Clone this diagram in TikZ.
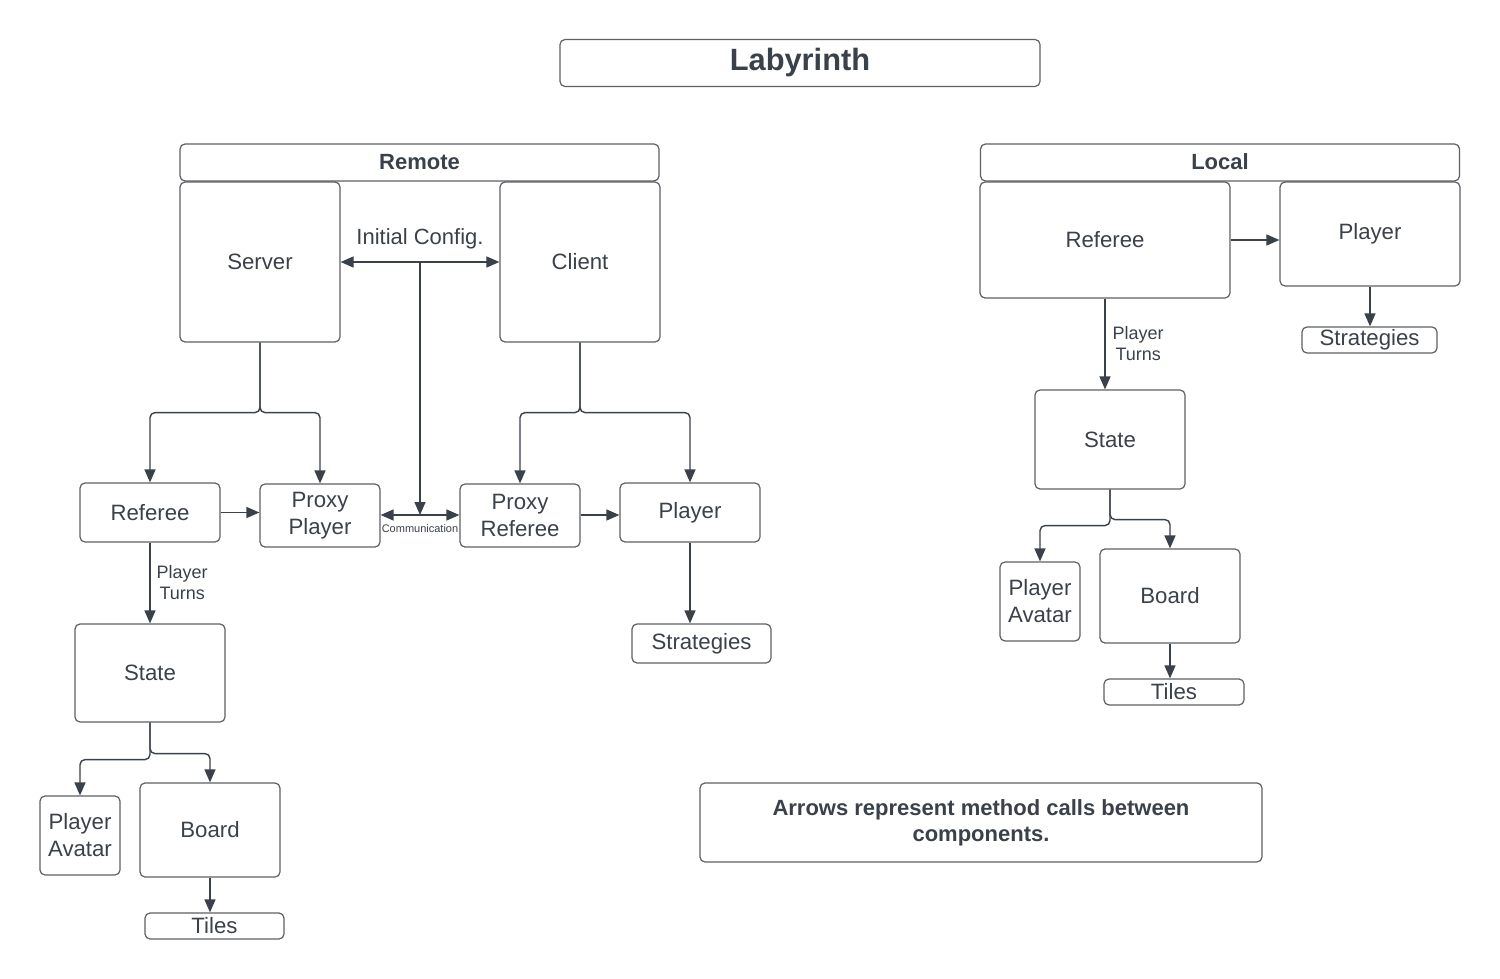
\documentclass[tikz,border=0pt]{standalone}
\usepackage{fontspec}
\setmainfont{Liberation Sans}
\usetikzlibrary{arrows.meta}
\definecolor{ink}{HTML}{3A414A}
\definecolor{edge}{HTML}{5C5F66}
\tikzset{
  box/.style={draw=edge, line width=0.6pt, rounded corners=2.5pt, text=ink, inner sep=0pt, align=center, font=\fontsize{11.1}{13.5}\selectfont},
  head/.style={box, font=\fontsize{11}{13}\selectfont\bfseries},
  lbl/.style={text=ink, align=center, inner sep=0pt},
  link/.style={draw=ink, line width=0.7pt, ->, rounded corners=2.5pt}
}
\begin{document}
\begin{tikzpicture}[x=0.5pt, y=-0.5pt, >={Triangle[length=6.5pt,width=5.5pt]}]
\useasboundingbox (0,0) rectangle (1500,979);

\node[head, minimum width=240pt, minimum height=23.5pt, font=\fontsize{15.4}{18}\selectfont\bfseries] (title) at (800,63) {Labyrinth};

% remote side
\node[head, minimum width=239.5pt, minimum height=18.5pt] (remote) at (419.5,162.5) {\raisebox{1pt}{Remote}};
\node[box, minimum width=80pt, minimum height=80pt] (server) at (260,262) {Server};
\node[box, minimum width=80pt, minimum height=80pt] (client) at (580,262) {Client};
\node[lbl, font=\fontsize{11}{13.5}\selectfont] (cfg) at (420,239) {Initial Config.};
\node[box, minimum width=70pt, minimum height=29.5pt] (ref) at (150,512.5) {Referee};
\node[box, minimum width=60pt, minimum height=31.5pt] (pp) at (320,515.5) {Proxy\\Player};
\node[box, minimum width=60pt, minimum height=31.5pt] (prf) at (520,515.5) {Proxy\\Referee};
\node[box, minimum width=70pt, minimum height=29.5pt] (rplayer) at (690,512.5) {Player};
\node[box, minimum width=69.5pt, minimum height=19.5pt] (rstrat) at (701.5,643.5) {Strategies};
\node[box, minimum width=75pt, minimum height=49pt] (rstate) at (150,673) {State};
\node[box, minimum width=40pt, minimum height=39.5pt] (ravatar) at (80,835.5) {Player\\Avatar};
\node[box, minimum width=70pt, minimum height=47pt] (rboard) at (210,830) {Board};
\node[box, minimum width=69.5pt, minimum height=13pt] (rtiles) at (214.5,926) {Tiles};
\coordinate (ic) at (420,262);
\coordinate (comm) at (420,515);

\draw[link, <->] (server.east |- ic) -- (client.west |- ic);
\draw[link] (ic) -- (comm);
\draw[link, <->] (pp.east |- comm) -- (prf.west |- comm) node[lbl, midway, below=4.5pt, font=\fontsize{5.5}{6}\selectfont] {Communication};
\draw[link] (server.south) -- ++(0,70) -| (ref.north);
\draw[link] (server.south) -- ++(0,70) -| (pp.north);
\draw[link] (client.south) -- ++(0,70) -| (prf.north);
\draw[link] (client.south) -- ++(0,70) -| (rplayer.north);
\draw[link] (ref.east) -- (pp.west |- ref.east);
\draw[link] (prf.east |- comm) -- (rplayer.west |- comm);
\draw[link] (rplayer.south) -- (rplayer.south |- rstrat.north);
\draw[link] (ref.south) -- (rstate.north) node[lbl, midway, right=3pt, font=\fontsize{9}{10.5}\selectfont] {Player\\Turns};
\draw[link] (rstate.south) -- ++(0,37) -| (ravatar.north);
\draw[link] (rstate.south) -- ++(0,31) -| (rboard.north);
\draw[link] (rboard.south) -- (rboard.south |- rtiles.north);

% local side
\node[head, minimum width=239.5pt, minimum height=18.5pt] (local) at (1220,162.5) {\raisebox{1pt}{Local}};
\node[box, minimum width=125pt, minimum height=58pt] (lref) at (1105,240) {\raisebox{1pt}{Referee}};
\node[box, minimum width=90pt, minimum height=52pt] (lplayer) at (1370,234) {Player};
\node[box, minimum width=67.5pt, minimum height=13pt] (lstrat) at (1369.5,340) {Strategies};
\node[box, minimum width=75pt, minimum height=49.5pt] (lstate) at (1110,439.5) {State};
\node[box, minimum width=40pt, minimum height=39.5pt] (lavatar) at (1040,601.5) {Player\\Avatar};
\node[box, minimum width=70pt, minimum height=47pt] (lboard) at (1170,596) {Board};
\node[box, minimum width=70pt, minimum height=13pt] (ltiles) at (1174,692) {Tiles};

\draw[link] (lref.east) -- (lplayer.west |- lref.east);
\draw[link] (lplayer.south) -- (lplayer.south |- lstrat.north);
\draw[link] (lref.south -| 1105,0) -- (1105,0 |- lstate.north) node[lbl, midway, right=3.5pt, font=\fontsize{9}{10.5}\selectfont] {Player\\Turns};
\draw[link] (lstate.south) -- ++(0,36) -| (lavatar.north);
\draw[link] (lstate.south) -- ++(0,30) -| (lboard.north);
\draw[link] (lboard.south) -- (lboard.south |- ltiles.north);

\node[box, minimum width=281pt, minimum height=39.5pt, font=\fontsize{11}{13}\selectfont\bfseries] (note) at (981,822.5) {\raisebox{2pt}{\parbox{250pt}{\centering Arrows represent method calls between\\components.}}};
\end{tikzpicture}
\end{document}
